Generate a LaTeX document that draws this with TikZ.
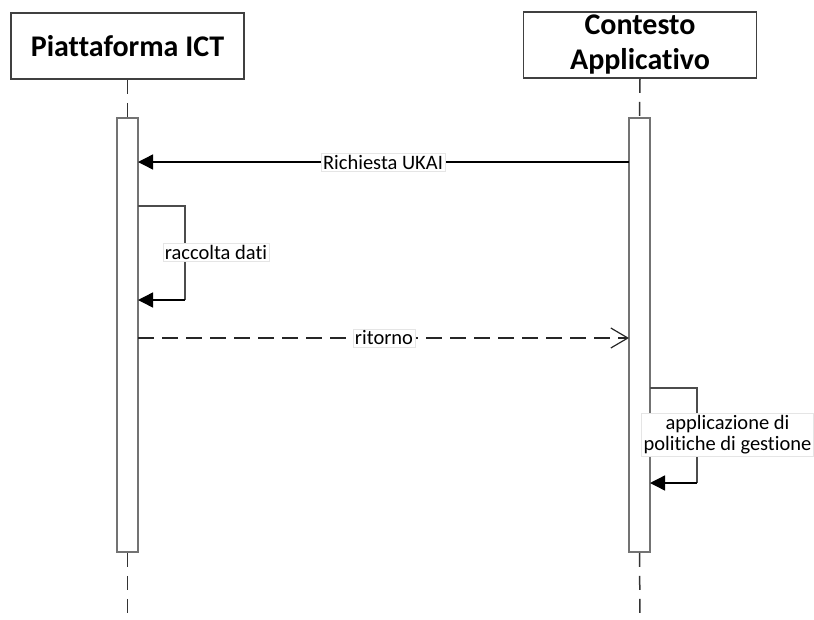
\documentclass[tikz,border=0pt]{standalone}
\usepackage{fontspec}
\setmainfont{Carlito}[Ligatures=NoCommon]
\usetikzlibrary{arrows.meta}
\tikzset{
  headbox/.style={draw=black!75, line width=1.6pt, minimum width=233pt, minimum height=66pt, inner sep=0pt, align=center, font=\fontsize{30}{35}\selectfont\bfseries},
  actbar/.style={draw=black!55, line width=1.6pt, fill=white, minimum width=21pt, minimum height=434pt, inner sep=0pt},
  lifeline/.style={draw=black!80, line width=1.5pt, dash pattern=on 14pt off 9pt},
  msg/.style={draw=black, line width=1.4pt, -{Triangle[length=15pt,width=15pt]}},
  ret/.style={draw=black!85, line width=1.4pt, dash pattern=on 16pt off 8pt, -{Straight Barb[length=17pt,width=20pt,line width=1.2pt]}},
  selfl/.style={draw=black!70, line width=1.6pt},
  lbl/.style={fill=white, draw=black!10, line width=0.5pt, inner sep=2pt, font=\fontsize{20.5}{23}\selectfont, align=center}
}
\begin{document}
\begin{tikzpicture}[x=1pt,y=-1pt]
\useasboundingbox (0,0) rectangle (814,619);
% heads
\node[headbox] (hA) at (127.5,46) {Piattaforma ICT};
\node[headbox] (hB) at (640,45) {Contesto\\Applicativo};
% lifeline ends
\coordinate (endA) at (127.5,619);
\coordinate (endB) at (640,619);
% activation bars
\node[actbar] (bA) at (127.5,335) {};
\node[actbar] (bB) at (639.5,335) {};
\draw[lifeline] (hA.south) -- (bA.north);
\draw[lifeline] (hB.south) -- (bB.north);
\draw[lifeline] (bA.south) -- (endA);
\draw[lifeline] (bB.south) -- (endB);
% message coordinates
\coordinate (m1s) at (629,162);
\coordinate (m1e) at (138,162);
\coordinate (s1a) at (138,206);
\coordinate (s1b) at (185,206);
\coordinate (s1c) at (185,300);
\coordinate (s1d) at (138,300);
\coordinate (r1s) at (138,338);
\coordinate (r1e) at (629,338);
\coordinate (s2a) at (650,388);
\coordinate (s2b) at (697,388);
\coordinate (s2c) at (697,483);
\coordinate (s2d) at (650,483);
% Richiesta UKAI
\draw[msg] (m1s) -- (m1e);
\node[lbl] (l1) at (383,162) {Richiesta UKAI};
% raccolta dati
\draw[selfl] (s1a) -- (s1b) -- (s1c);
\draw[msg] (s1c) -- (s1d);
\node[lbl] (l2) at (216,252) {raccolta dati};
% ritorno
\draw[ret] (r1s) -- (r1e);
\node[lbl] (l3) at (384,338) {ritorno};
% applicazione
\draw[selfl] (s2a) -- (s2b) -- (s2c);
\draw[msg] (s2c) -- (s2d);
\node[lbl] (l4) at (727.5,435) {applicazione di\\[-2pt]politiche di gestione};
\end{tikzpicture}
\end{document}
